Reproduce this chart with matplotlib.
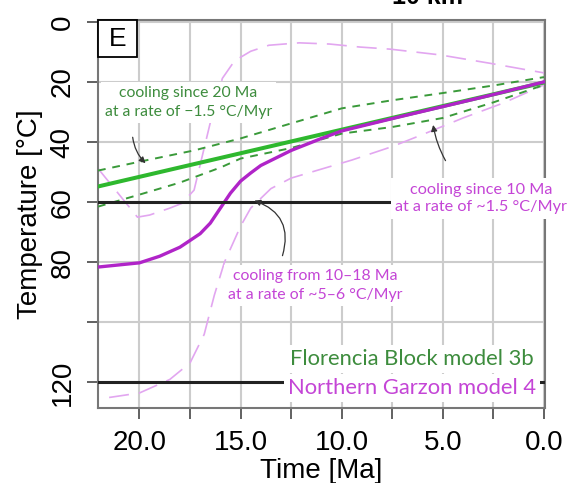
import numpy as np
import matplotlib
matplotlib.use('Agg')
import matplotlib.pyplot as plt
from matplotlib.patches import Rectangle

plt.rcParams['font.family'] = ['Liberation Sans', 'DejaVu Sans']

# time [Ma] and temperature [C]
flor_t = [22.05, 0.0]
flor_T = [54.8, 20.2]

flor_hi_t = [22.05, 19.75, 17.3, 15.0, 12.5, 10.0, 7.5, 5.0, 2.5, 0.0]
flor_hi_T = [49.5, 46.2, 42.8, 38.8, 33.8, 28.8, 26.1, 23.7, 21.2, 18.4]

flor_lo_t = [22.05, 20.0, 18.0, 16.0, 15.0, 12.5, 10.0, 7.5, 5.0, 2.5, 0.0]
flor_lo_T = [61.5, 57.5, 53.5, 48.5, 45.5, 42.0, 37.2, 35.0, 32.0, 26.8, 21.0]

garz_t = [22.05, 20.0, 19.0, 18.0, 17.0, 16.5, 16.0, 15.5, 15.0, 14.5, 14.0,
          12.5, 11.0, 10.0, 7.5, 5.0, 2.5, 0.0]
garz_T = [81.6, 80.2, 78.0, 75.0, 70.5, 67.0, 62.0, 57.0, 53.0, 50.3, 47.8,
          42.8, 38.8, 36.3, 32.2, 28.2, 24.2, 20.0]

garz_hi_t = [22.05, 20.1, 19.5, 18.5, 17.9, 17.3, 16.8, 16.3, 15.9, 15.3, 14.5,
             13.6, 12.1, 10.6, 9.1, 7.6, 5.15, 2.67, 0.0]
garz_hi_T = [48.8, 65.0, 64.3, 62.0, 60.4, 56.0, 42.0, 28.0, 18.8, 13.0, 9.8,
             7.8, 7.0, 7.4, 8.4, 9.1, 11.0, 13.8, 17.0]

garz_lo_t = [21.5, 20.0, 18.5, 17.5, 16.8, 16.3, 15.8, 15.0, 14.5, 13.5, 12.5,
             11.0, 9.5, 7.5, 6.0, 4.0, 2.0, 0.0]
garz_lo_T = [125.0, 123.5, 119.0, 113.5, 104.0, 91.0, 80.0, 68.0, 62.0, 55.5, 52.0,
             49.0, 46.0, 41.5, 37.5, 32.0, 27.0, 21.0]

ref_T = [60, 120]

xticks = np.arange(0, 20.1, 2.5)
xlabels = ['0.0', '', '5.0', '', '10.0', '', '15.0', '', '20.0']
yticks = [0, 20, 40, 60, 80, 100, 120]
ylabels = ['0', '20', '40', '60', '80', '', '120']

green = '#2eb82e'
green_d = '#3a9a3a'
green_txt = '#3d8c3d'
mag = '#b024c8'
pink = '#e2a6f0'
mag_txt = '#c445d6'
note_font = ['Lato', 'DejaVu Sans']

fig = plt.figure(figsize=(5.71, 4.83), dpi=100)
ax = fig.add_axes([98/571, 75/483, 447/571, 388/483])

ax.set_xlim(22.05, -0.05)
ax.set_ylim(128.5, -0.6)
ax.set_xticks(xticks)
ax.set_xticklabels(xlabels)
ax.set_yticks(yticks)
ax.set_yticklabels(ylabels, rotation=90, va='center')
ax.grid(True, color='#cccccc', lw=1.5, zorder=0)
ax.set_axisbelow(True)
ax.tick_params(length=8, width=1.3, color='#555555', labelsize=20, pad=8)
for s in ax.spines.values():
    s.set_color('#777777')
    s.set_linewidth(1.5)

ax.set_xlabel('Time [Ma]', fontsize=20, labelpad=1)
ax.set_ylabel('Temperature [°C]', fontsize=20, labelpad=5)

ax.plot(garz_hi_t, garz_hi_T, color=pink, lw=1.2, ls=(0, (12, 6)), zorder=2)
ax.plot(garz_lo_t, garz_lo_T, color=pink, lw=1.2, ls=(0, (12, 6)), zorder=2)
ax.plot(flor_hi_t, flor_hi_T, color=green_d, lw=1.4, ls=(0, (4, 3.5)), zorder=3)
ax.plot(flor_lo_t, flor_lo_T, color=green_d, lw=1.4, ls=(0, (4, 3.5)), zorder=3)
ax.plot(flor_t, flor_T, color=green, lw=2.9, zorder=4)
ax.plot(garz_t, garz_T, color=mag, lw=2.4, zorder=5)
for T in ref_T:
    ax.axhline(T, color='#222222', lw=2.2, zorder=6)

box = dict(facecolor='white', edgecolor='none', pad=3)
ax.text(17.57, 26.8, 'cooling since 20 Ma\nat a rate of −1.5 °C/Myr', color=green_txt,
        family=note_font, fontsize=11.3, ha='center', va='center', linespacing=1.4,
        bbox=box, zorder=8)
ax.text(3.1, 58.8, 'cooling since 10 Ma\nat a rate of ~1.5 °C/Myr', color=mag_txt,
        family=note_font, fontsize=11.7, ha='center', va='center', linespacing=1.35,
        bbox=box, zorder=8, clip_on=False)
ax.text(11.29, 87.8, 'cooling from 10–18 Ma\nat a rate of ~5–6 °C/Myr', color=mag_txt,
        family=note_font, fontsize=11.4, ha='center', va='center', linespacing=1.4,
        bbox=box, zorder=8)

ax.text(6.53, 112.1, 'Florencia Block model 3b', color=green_txt, family=note_font,
        fontsize=15.8, ha='center', va='center', bbox=box, zorder=8)
ax.text(6.53, 121.8, 'Northern Garzon model 4', color=mag_txt, family=note_font,
        fontsize=15.8, ha='center', va='center', bbox=box, zorder=8)

arrow = dict(arrowstyle='-|>', color='#333333', lw=0.9, mutation_scale=9)
ax.annotate('', xy=(19.6, 47.7), xytext=(20.35, 37.5),
            arrowprops=dict(arrow, connectionstyle='arc3,rad=0.2'), zorder=7)
ax.annotate('', xy=(5.5, 33.4), xytext=(4.8, 47.0),
            arrowprops=dict(arrow, connectionstyle='arc3,rad=-0.1'), zorder=7)
ax.annotate('', xy=(14.45, 59.2), xytext=(12.97, 78.7),
            arrowprops=dict(arrow, connectionstyle='arc3,rad=0.5'), zorder=7)

ax.add_patch(Rectangle((0, 1), 39/447, -37/388, transform=ax.transAxes,
                       facecolor='white', edgecolor='black', lw=1.3, zorder=9, clip_on=False))
ax.text(19.5/447, 1 - 18.5/388, 'E', transform=ax.transAxes, fontsize=19,
        ha='center', va='center', zorder=10)

fig.text(427/571, 1 - 4/483, '10 km', ha='center', va='baseline', fontsize=18,
         fontweight='bold')

fig.savefig('out.png', dpi=100)
